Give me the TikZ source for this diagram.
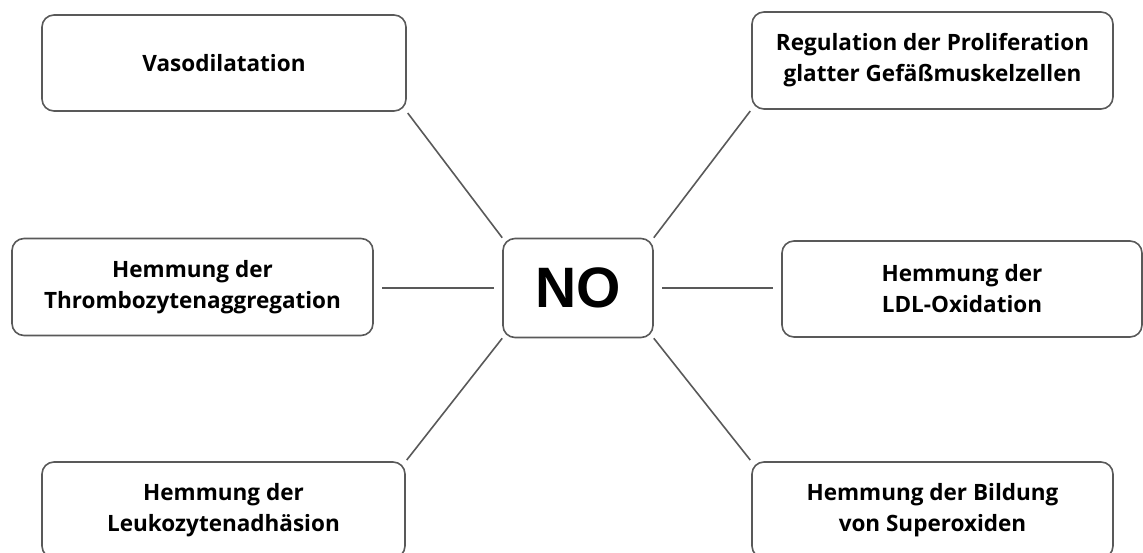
\documentclass[tikz,border=0pt]{standalone}
\usepackage{fontspec}
\setmainfont{Open Sans}
\newfontfamily\nofont{Liberation Sans}
\definecolor{edge}{HTML}{595959}
\begin{document}
\begin{tikzpicture}[x=1pt,y=-1pt,
  box/.style={draw=edge, line width=1.6pt, rounded corners=12pt, align=center,
    font=\fontsize{22.5}{31}\selectfont\bfseries, inner sep=0pt, text=black},
  link/.style={draw=edge, line width=1.6pt},
  hlink/.style={link, shorten <=8.5pt, shorten >=8.5pt}]
\useasboundingbox (0,0) rectangle (1143,553);
\node[box, minimum width=364pt, minimum height=96pt] (v) at (224,63) {Vasodilatation};
\node[box, minimum width=361pt, minimum height=97pt] (r) at (932.5,60.5) {Regulation der Proliferation\\glatter Gefäßmuskelzellen};
\node[box, minimum width=361pt, minimum height=97pt] (t) at (192.5,287) {Hemmung der\\Thrombozytenaggregation};
\node[box, minimum width=150pt, minimum height=99pt, font=\nofont\fontsize{57}{60}\selectfont\bfseries] (no) at (578,288) {NO};
\node[box, minimum width=360pt, minimum height=96pt] (l) at (962,289) {Hemmung der\\LDL-Oxidation};
\node[box, minimum width=363pt, minimum height=96pt] (k) at (223.5,510) {Hemmung der\\Leukozytenadhäsion};
\node[box, minimum width=361pt, minimum height=96pt] (s) at (932.5,510) {Hemmung der Bildung\\von Superoxiden};
\draw[link, shorten <=1.5pt] (v.south east) -- (no.north west);
\draw[link, shorten <=1.5pt] (r.south west) -- (no.north east);
\draw[link, shorten <=1.5pt] (k.north east) -- (no.south west);
\draw[link, shorten <=1.5pt] (s.north west) -- (no.south east);
\draw[hlink] (t.east |- no.west) -- (no.west);
\draw[hlink] (no.east) -- (no.east -| l.west);
\end{tikzpicture}
\end{document}
